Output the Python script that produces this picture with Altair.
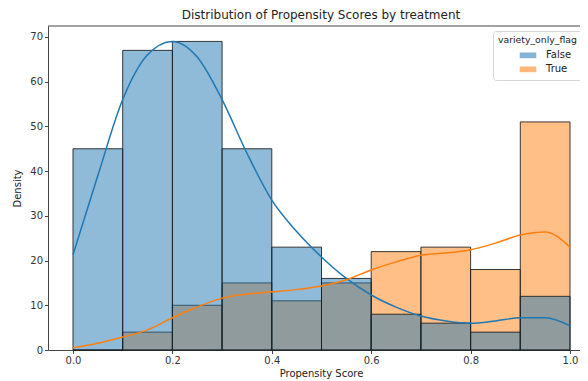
import altair as alt
import pandas as pd

bin_start = [0.0, 0.1, 0.2, 0.3, 0.4, 0.5, 0.6, 0.7, 0.8, 0.9]
bin_end = [0.1, 0.2, 0.3, 0.4, 0.5, 0.6, 0.7, 0.8, 0.9, 1.0]
false_counts = [45, 67, 69, 45, 23, 16, 8, 6, 4, 12]
true_counts = [0, 4, 10, 15, 11, 15, 22, 23, 18, 51]

kde_x = [0.0, 0.05, 0.1, 0.15, 0.2, 0.25, 0.3, 0.35, 0.4, 0.45, 0.5,
         0.55, 0.6, 0.65, 0.7, 0.75, 0.8, 0.85, 0.9, 0.95, 1.0]
kde_false = [21.3, 39, 56, 66, 69, 65.5, 56, 44, 33.5, 26.5, 20.8,
             16, 12.3, 9.6, 7.6, 6.5, 6, 6.5, 7.2, 7.2, 5.4]
kde_true = [0.5, 1.5, 2.9, 4.5, 7.2, 9.6, 11.6, 12.5, 13.0, 13.5, 14.3,
            15.7, 17.9, 19.7, 21.2, 21.7, 22.4, 23.9, 25.7, 26.4, 23]

rows = []
for s, e, c in zip(bin_start, bin_end, true_counts):
    rows.append({"start": s, "end": e, "count": c, "flag": "True"})
for s, e, c in zip(bin_start, bin_end, false_counts):
    rows.append({"start": s, "end": e, "count": c, "flag": "False"})
bars_df = pd.DataFrame(rows)

krows = []
for x, v in zip(kde_x, kde_false):
    krows.append({"x": x, "y": v, "flag": "False"})
for x, v in zip(kde_x, kde_true):
    krows.append({"x": x, "y": v, "flag": "True"})
kde_df = pd.DataFrame(krows)

FONT = "DejaVu Sans"
W, H = 532, 324

x_scale = alt.Scale(domain=[-0.0503, 1.0201], nice=False, zero=False)
y_scale = alt.Scale(domain=[0, 72.45], nice=False)
color_scale = alt.Scale(domain=["False", "True"], range=["#1f77b4", "#ff7f0e"])

rect_path = "M-1.1,-0.33L1.1,-0.33L1.1,0.33L-1.1,0.33Z"

bars = alt.Chart(bars_df).mark_rect(
    fillOpacity=0.5, stroke="#1a1a1a", strokeWidth=1, strokeOpacity=0.85
).encode(
    x=alt.X("start:Q", scale=x_scale, title="Propensity Score",
            axis=alt.Axis(values=[0.0, 0.2, 0.4, 0.6, 0.8, 1.0], format=".1f",
                          titleX=273, titlePadding=3)),
    x2="end:Q",
    y=alt.Y("count:Q", scale=y_scale, title="Density",
            axis=alt.Axis(values=[0, 10, 20, 30, 40, 50, 60, 70], titlePadding=7)),
    y2=alt.datum(0),
    color=alt.Color("flag:N", scale=color_scale, sort=["False", "True"],
                    legend=alt.Legend(
                        title="variety_only_flag", orient="none",
                        legendX=445, legendY=5,
                        symbolType=rect_path, symbolSize=196,
                        symbolOffset=22, symbolOpacity=0.55,
                        symbolStrokeColor="#000", symbolStrokeWidth=1.2,
                        fillColor="white", strokeColor="#d5d5d5",
                        cornerRadius=3, padding=5,
                        titleFont=FONT, titleFontSize=9.3, titleFontWeight="normal",
                        titleColor="#222", titlePadding=2,
                        labelFont=FONT, labelFontSize=10, labelColor="#222",
                        rowPadding=1, labelOffset=10, offset=0)),
)

lines = alt.Chart(kde_df).mark_line(strokeWidth=1.5, interpolate="monotone").encode(
    x=alt.X("x:Q", scale=x_scale),
    y=alt.Y("y:Q", scale=y_scale),
    stroke=alt.Stroke("flag:N", scale=color_scale, legend=None),
)

top = alt.Chart(pd.DataFrame({"a": [0]})).mark_rule(color="#444", strokeWidth=1).encode(
    x=alt.value(0), x2=alt.value(W), y=alt.value(0)
)

chart = alt.layer(bars, lines, top).properties(
    width=W, height=H,
    background="white",
    autosize=alt.AutoSizeParams(type="none"),
    padding={"left": 40, "top": 18, "right": 0, "bottom": 31},
    title=alt.TitleParams("Distribution of Propensity Scores by treatment",
                          font=FONT, fontSize=12, fontWeight="normal",
                          color="#222", dx=7, offset=4),
).configure_view(stroke=None).configure_axis(
    grid=False, domainColor="#444", tickColor="#444", tickSize=3.5,
    labelFont=FONT, labelFontSize=10, labelColor="#333", labelPadding=2,
    titleFont=FONT, titleFontSize=10, titleFontWeight="normal", titleColor="#222",
)

chart.save("out.html", embed_options={"renderer": "svg", "actions": False})
